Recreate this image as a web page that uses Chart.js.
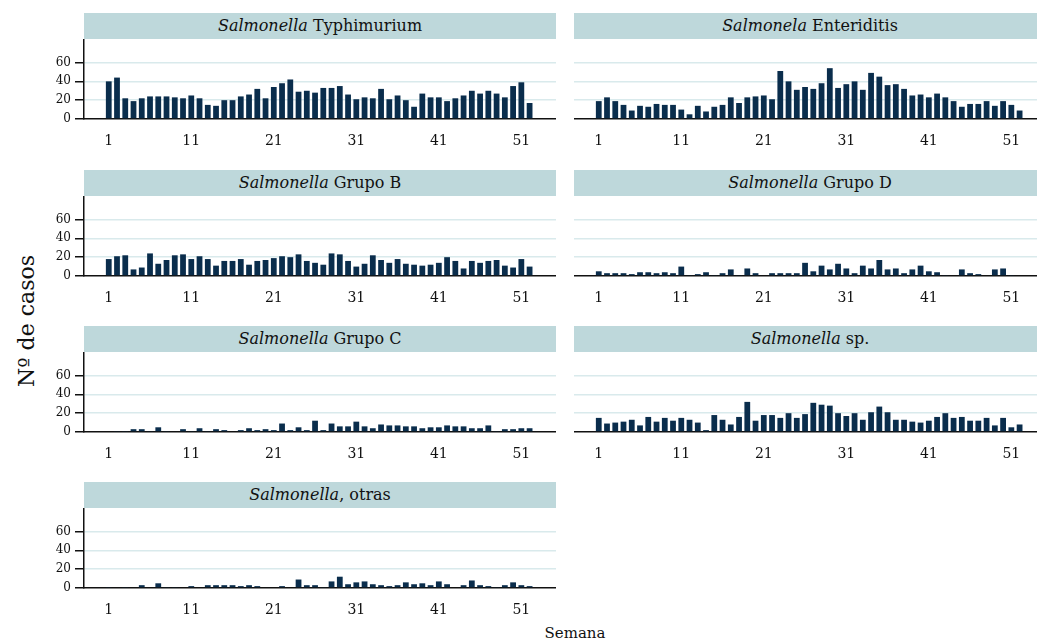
<!DOCTYPE html>
<html>
<head>
<meta charset="utf-8">
<script src="https://cdn.jsdelivr.net/npm/chart.js@4"></script>
<style>
  html, body { margin: 0; padding: 0; background: #fff; }
  body { width: 1037px; height: 640px; position: relative; overflow: hidden; font-family: "DejaVu Serif", serif; }
  .strip { position: absolute; height: 26px; line-height: 26px; background: #bed8db; color: #111; text-align: center; font-size: 16px; }
  .panel { position: absolute; }
  #ytitle { position: absolute; left: 26px; top: 321px; transform: translate(-50%, -50%) rotate(-90deg); font-size: 22px; white-space: nowrap; color: #111; }
  #xtitle { position: absolute; left: 575px; top: 633px; transform: translate(-50%, -50%); font-size: 15px; color: #111; }
</style>
</head>
<body>
<div id="ytitle">Nº de casos</div>
<div id="xtitle">Semana</div>
<script>
// weekly cases by serotype

const weeks = [1, 2, 3, 4, 5, 6, 7, 8, 9, 10, 11, 12, 13, 14, 15, 16, 17, 18, 19, 20, 21, 22, 23, 24, 25, 26,
  27, 28, 29, 30, 31, 32, 33, 34, 35, 36, 37, 38, 39, 40, 41, 42, 43, 44, 45, 46, 47, 48, 49, 50, 51, 52];
const xTicks = [1, 11, 21, 31, 41, 51];
const yTicks = [0, 20, 40, 60];

const typhimurium = [40, 44, 22, 19, 22, 24, 24, 24, 23, 22, 25, 22, 15, 14, 20, 20, 24, 26, 32, 22, 34, 38, 42, 29, 30, 28,
  33, 33, 35, 26, 21, 23, 22, 32, 21, 25, 20, 13, 27, 23, 23, 19, 22, 25, 30, 27, 30, 27, 23, 35, 39, 17];
const enteritidis = [19, 23, 19, 15, 9, 14, 13, 16, 15, 15, 10, 5, 14, 8, 13, 15, 23, 17, 23, 24, 25, 21, 51, 40, 31, 34,
  32, 38, 54, 33, 37, 40, 31, 49, 45, 36, 37, 32, 25, 26, 23, 27, 23, 19, 13, 16, 16, 19, 14, 19, 15, 9];
const grupoB = [18, 21, 22, 7, 9, 24, 13, 17, 22, 23, 18, 21, 18, 11, 16, 16, 18, 12, 16, 17, 19, 21, 20, 23, 16, 14,
  12, 24, 23, 16, 10, 13, 22, 17, 14, 18, 13, 12, 11, 12, 14, 20, 16, 8, 16, 14, 16, 17, 11, 9, 18, 10];
const grupoD = [5, 3, 3, 3, 2, 4, 4, 3, 4, 3, 10, 1, 2, 4, 1, 3, 7, 1, 8, 3, 0, 3, 3, 3, 3, 14,
  5, 11, 7, 13, 8, 3, 11, 8, 17, 7, 8, 3, 7, 11, 5, 4, 1, 0, 7, 3, 2, 0, 7, 8, 1, 0];
const grupoC = [0, 1, 1, 3, 3, 1, 5, 1, 0, 3, 1, 4, 1, 3, 2, 0, 2, 4, 2, 3, 2, 9, 2, 5, 2, 12,
  2, 9, 6, 6, 11, 6, 4, 8, 7, 7, 6, 6, 4, 5, 5, 7, 6, 6, 4, 4, 7, 1, 3, 3, 4, 4];
const sp = [15, 9, 10, 11, 13, 7, 16, 11, 15, 12, 15, 13, 10, 2, 18, 13, 8, 16, 32, 12, 18, 18, 15, 20, 15, 19,
  31, 29, 28, 20, 17, 20, 13, 21, 27, 21, 13, 13, 11, 10, 12, 16, 20, 15, 16, 12, 12, 15, 7, 15, 5, 8];
const otras = [1, 0, 1, 0, 3, 0, 5, 1, 1, 0, 2, 0, 3, 3, 3, 3, 2, 3, 2, 0, 0, 2, 0, 9, 3, 3,
  1, 7, 12, 4, 6, 7, 4, 3, 2, 3, 6, 4, 5, 3, 7, 4, 0, 3, 8, 3, 2, 1, 3, 6, 3, 2];

const barColor = '#0a2d4c';
const gridColor = '#d9eaec';
const font = "'DejaVu Serif', serif";

// col 0 = left (with y axis), col 1 = right
const panels = [
  { title: '<i>Salmonella</i> Typhimurium', data: typhimurium, col: 0, row: 0 },
  { title: '<i>Salmonela</i> Enteriditis', data: enteritidis, col: 1, row: 0 },
  { title: '<i>Salmonella</i> Grupo B', data: grupoB, col: 0, row: 1 },
  { title: '<i>Salmonella</i> Grupo D', data: grupoD, col: 1, row: 1 },
  { title: '<i>Salmonella</i> Grupo C', data: grupoC, col: 0, row: 2 },
  { title: '<i>Salmonella</i> sp.', data: sp, col: 1, row: 2 },
  { title: '<i>Salmonella</i>, otras', data: otras, col: 0, row: 3 }
];

const rowTop = [13, 170, 326, 482];

const makePanel = (p) => {
  const plotLeft = p.col === 0 ? 84 : 574;
  const plotWidth = 472;
  const top = rowTop[p.row];

  const strip = document.createElement('div');
  strip.className = 'strip';
  strip.style.left = plotLeft + 'px';
  strip.style.top = top + 'px';
  strip.style.width = plotWidth + 'px';
  strip.innerHTML = p.title;
  document.body.appendChild(strip);

  const yw = p.col === 0 ? 44 : 0;
  const wrap = document.createElement('div');
  wrap.className = 'panel';
  wrap.style.left = (plotLeft - yw) + 'px';
  wrap.style.top = (top + 26) + 'px';
  wrap.style.width = (plotWidth + yw) + 'px';
  wrap.style.height = '130px';
  const canvas = document.createElement('canvas');
  wrap.appendChild(canvas);
  document.body.appendChild(wrap);

  new Chart(canvas, {
    type: 'bar',
    data: {
      datasets: [{
        data: weeks.map((w, i) => ({ x: w, y: p.data[i] })),
        backgroundColor: barColor,
        borderWidth: 0,
        categoryPercentage: 1,
        barPercentage: 0.7
      }]
    },
    options: {
      responsive: true,
      maintainAspectRatio: false,
      animation: false,
      layout: { padding: 0 },
      plugins: { legend: { display: false }, tooltip: { enabled: false } },
      scales: {
        x: {
          type: 'linear',
          min: -2,
          max: 55.2,
          offset: false,
          afterBuildTicks: s => { s.ticks = xTicks.map(v => ({ value: v })); },
          afterFit: s => { s.height = 50; s.paddingLeft = 0; s.paddingRight = 0; },
          grid: { display: false, drawTicks: false },
          border: { display: true, color: '#111', width: 1.5 },
          ticks: { color: '#111', padding: 14, font: { family: font, size: 14 }, maxRotation: 0 }
        },
        y: {
          min: 0,
          max: 85,
          afterBuildTicks: s => { s.ticks = yTicks.map(v => ({ value: v })); },
          afterFit: s => { s.width = yw; s.paddingTop = 0; s.paddingBottom = 0; },
          grid: {
            color: c => c.tick && c.tick.value === 0 ? 'rgba(0,0,0,0)' : gridColor,
            lineWidth: 1.5,
            drawTicks: p.col === 0,
            tickLength: 9,
            tickColor: '#111'
          },
          border: { display: p.col === 0, color: '#111', width: 1.5 },
          ticks: { display: p.col === 0, color: '#111', padding: 4, font: { family: font, size: 12 } }
        }
      }
    }
  });
};

panels.forEach(makePanel);
</script>
</body>
</html>
